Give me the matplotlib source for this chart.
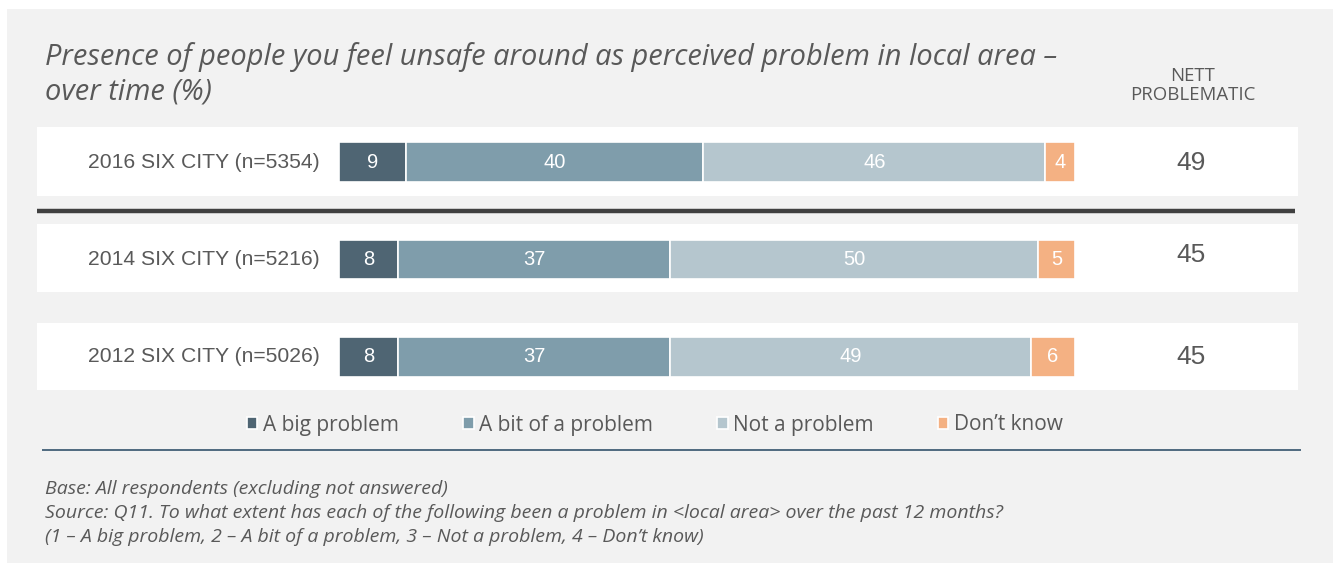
import numpy as np
import matplotlib.pyplot as plt
from matplotlib.patches import Rectangle
import matplotlib.transforms as mtransforms

# survey rows, top to bottom
rows = ["2016 SIX CITY (n=5354)", "2014 SIX CITY (n=5216)", "2012 SIX CITY (n=5026)"]
responses = ["A big problem", "A bit of a problem", "Not a problem", "Don\u2019t know"]
big_problem = [9, 8, 8]
bit_problem = [40, 37, 37]
not_problem = [46, 50, 49]
dont_know = [4, 5, 6]
nett_problematic = [49, 45, 45]

colors = ["#4f6573", "#7f9dab", "#b5c6ce", "#f4b183"]
text_grey = "#595959"
W, H = 1333, 568

fig = plt.figure(figsize=(W / 100, H / 100), dpi=100, facecolor="white")

# background layer in pixel units
bg = fig.add_axes([0, 0, 1, 1], zorder=0)
bg.set_xlim(0, W)
bg.set_ylim(H, 0)
bg.axis("off")
bg.add_patch(Rectangle((7, 9), W - 7, 554, facecolor="#f2f2f2", edgecolor="none"))
for top, bottom in [(127, 196), (224, 292), (323, 390)]:
    bg.add_patch(Rectangle((37, top), 1261, bottom - top, facecolor="white", edgecolor="none"))
bg.plot([37, 1295], [211, 211], color="#404040", lw=3.2, solid_capstyle="butt")
bg.plot([42, 1301], [450, 450], color="#4f6a7f", lw=1.4, solid_capstyle="butt")

title_lines = ["Presence of people you feel unsafe around as perceived problem in local area \u2013",
               "over time (%)"]
for i, line in enumerate(title_lines):
    bg.text(45, 65 + i * 35, line, fontsize=20.9, style="italic", family="Open Sans",
            color=text_grey, ha="left", va="baseline")
for i, line in enumerate(["NETT", "PROBLEMATIC"]):
    bg.text(1193, 81 + i * 19, line, fontsize=13.4, family="Open Sans", color=text_grey,
            ha="center", va="baseline")

notes = ["Base: All respondents (excluding not answered)",
         "Source: Q11. To what extent has each of the following been a problem in <local area> over the past 12 months?",
         "(1 \u2013 A big problem, 2 \u2013 A bit of a problem, 3 \u2013 Not a problem, 4 \u2013 Don\u2019t know)"]
for i, line in enumerate(notes):
    bg.text(45, 494 + i * 24, line, fontsize=14, style="italic", family="Open Sans",
            color=text_grey, ha="left", va="baseline")

# stacked 100% bars
ax = fig.add_axes([339 / W, 1 - 405.75 / H, 736 / W, 292.5 / H], zorder=1)
ax.patch.set_alpha(0)
series = np.array([big_problem, bit_problem, not_problem, dont_know], dtype=float)
shares = series / series.sum(axis=0) * 100
y = np.arange(len(rows))
left = np.zeros(len(rows))
bars = []
for k in range(len(responses)):
    b = ax.barh(y, shares[k], left=left, height=0.41, color=colors[k],
                edgecolor="white", linewidth=1.2, label=responses[k])
    bars.append(b)
    for i in range(len(rows)):
        ax.text(left[i] + shares[k][i] / 2, y[i], str(int(series[k][i])),
                ha="center", va="center", color="white", fontsize=14.5,
                family="Liberation Sans")
    left += shares[k]
ax.set_xlim(0, 100)
ax.set_ylim(len(rows) - 0.5, -0.5)
ax.axis("off")

trans = mtransforms.blended_transform_factory(fig.transFigure, ax.transData)
nett_offsets = [0.01, -0.05, 0.0]
for i, label in enumerate(rows):
    ax.text(320 / W, y[i], label, transform=trans, ha="right", va="center",
            fontsize=15.2, color=text_grey, family="Liberation Sans")
    ax.text(1191 / W, y[i] + nett_offsets[i], str(nett_problematic[i]), transform=trans,
            ha="center", va="center", fontsize=19, color=text_grey, family="Liberation Sans")

leg = fig.legend(handles=bars, labels=responses, ncol=4, loc="center left",
                 bbox_to_anchor=(247 / W, 1 - 425 / H), frameon=False,
                 borderpad=0, borderaxespad=0,
                 handlelength=0.5, handleheight=0.5, handletextpad=0.25,
                 columnspacing=3.1, prop={"family": "Open Sans", "size": 15})
for t in leg.get_texts():
    t.set_color(text_grey)

fig.savefig("out.png", dpi=100, facecolor="white")
